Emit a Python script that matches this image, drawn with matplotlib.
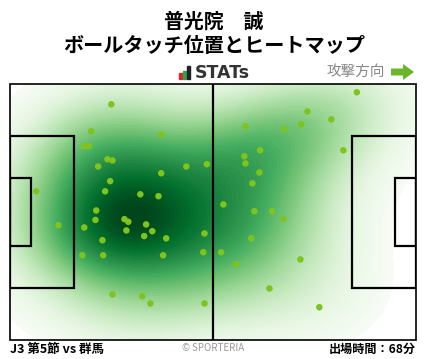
import numpy as np
import matplotlib
matplotlib.use("Agg")
import matplotlib.pyplot as plt
from matplotlib.patches import Rectangle, FancyArrow

plt.rcParams['font.family'] = ['Noto Sans CJK JP', 'DejaVu Sans']

# ball touch positions (pitch metres, attacking to the right)
touch_x = [26.2, 21.0, 39.1, 19.2, 20.4, 25.2, 26.5, 22.8, 45.6, 50.9,
           39.1, 25.9, 6.8, 24.6, 33.7, 38.4, 22.3, 22.1, 29.6, 30.6,
           12.5, 19.2, 35.2, 30.1, 36.8, 34.7, 40.4, 50.3, 23.9, 18.7,
           24.1, 39.6, 50.0, 26.5, 34.2, 36.3, 50.3, 89.7, 76.9, 83.1,
           75.3, 60.9, 70.9, 86.2, 64.7, 60.6, 60.9, 64.5, 62.7, 55.2,
           63.2, 67.8, 70.7, 62.4, 54.6, 58.5, 75.1, 67.1, 80.0]
touch_y = [62.6, 55.4, 54.6, 51.5, 51.5, 48.0, 47.7, 46.1, 46.1, 46.7,
           44.3, 42.2, 39.5, 39.5, 38.7, 38.2, 34.4, 31.9, 32.1, 31.4,
           30.5, 29.9, 30.7, 29.1, 28.9, 27.6, 27.0, 28.3, 26.5, 22.5,
           22.5, 22.5, 23.3, 12.1, 11.6, 9.7, 9.7, 65.8, 60.7, 58.6,
           57.3, 56.8, 56.0, 50.4, 50.4, 48.8, 46.9, 44.5, 41.6, 36.0,
           34.2, 34.2, 32.2, 27.0, 23.3, 20.1, 21.4, 13.7, 8.7]

title1 = "普光院　誠"
title2 = "ボールタッチ位置とヒートマップ"
match_label = "J3 第5節 vs 群馬"
minutes_label = "出場時間：68分"

W, H = 428, 359
fig = plt.figure(figsize=(W / 100, H / 100), dpi=100)

def fx(px):
    return px / W

def fy(py):
    return 1 - py / H

ax = fig.add_axes([fx(10), fy(340), 406 / W, 256 / H])
ax.set_xlim(0, 105)
ax.set_ylim(0, 68)
ax.axis('off')

# gaussian kde, wider than scott's rule
pts = np.vstack([touch_x, touch_y])
n = pts.shape[1]
factor = 0.66
cov = np.cov(pts) * factor ** 2
inv = np.linalg.inv(cov)
gx, gy = np.meshgrid(np.linspace(0, 105, 300), np.linspace(0, 68, 200))
grid = np.vstack([gx.ravel(), gy.ravel()])
dens = np.zeros(grid.shape[1])
for i in range(n):
    d = grid - pts[:, i:i + 1]
    dens += np.exp(-0.5 * np.sum(d * (inv @ d), axis=0))
dens = dens.reshape(gx.shape)
dens = (dens / dens.max()) ** 0.85
levels = np.linspace(0.06, 1.0, 80)
ax.contourf(gx, gy, dens, levels=levels, cmap='Greens', extend='max')

# pitch lines
lc = 'black'
lw = 1.6
ax.add_patch(Rectangle((0, 0), 105, 68, fill=False, ec=lc, lw=1.2, clip_on=False))
ax.plot([52.5, 52.5], [0, 68], color=lc, lw=lw)
ax.add_patch(Rectangle((0, 13.85), 16.5, 40.3, fill=False, ec=lc, lw=lw))
ax.add_patch(Rectangle((0, 24.85), 5.5, 18.3, fill=False, ec=lc, lw=lw))
ax.add_patch(Rectangle((105 - 16.5, 13.85), 16.5, 40.3, fill=False, ec=lc, lw=lw))
ax.add_patch(Rectangle((105 - 5.5, 24.85), 5.5, 18.3, fill=False, ec=lc, lw=lw))

ax.scatter(touch_x, touch_y, s=22, color='#7fc41c', edgecolors='none', zorder=5)

# titles
fig.text(fx(214), fy(21), title1, ha='center', va='center', fontsize=14.3, fontweight='bold')
fig.text(fx(214), fy(46), title2, ha='center', va='center', fontsize=14.5, fontweight='bold')

# STATs logo
fig.patches.append(Rectangle((fx(179), fy(79)), 3 / W, 6 / H, transform=fig.transFigure, color='#e0232a'))
fig.patches.append(Rectangle((fx(183), fy(79)), 3 / W, 8 / H, transform=fig.transFigure, color='#2fa24a'))
fig.patches.append(Rectangle((fx(187), fy(79)), 3 / W, 13 / H, transform=fig.transFigure, color='#222222'))
fig.text(fx(195), fy(73), "STATs", ha='left', va='center', fontsize=12.5, fontweight='bold',
         color='#333333', family=['DejaVu Sans'])

# attack direction
fig.text(fx(385), fy(72), "攻撃方向", ha='right', va='center', fontsize=10.5, color='#888888')
fig.patches.append(FancyArrow(fx(391), fy(72), 12 / W, 0, width=7 / H, head_width=16 / H,
                              head_length=11 / W, length_includes_head=False,
                              transform=fig.transFigure, color='#6bb52d', lw=0))

# footer
fig.text(fx(10), fy(349), match_label, ha='left', va='center', fontsize=9, fontweight='bold')
fig.text(fx(213), fy(348), "© SPORTERIA", ha='center', va='center', fontsize=7, color='#999999')
fig.text(fx(416), fy(349), minutes_label, ha='right', va='center', fontsize=8.7, fontweight='bold')

fig.savefig('out.png', dpi=100)
